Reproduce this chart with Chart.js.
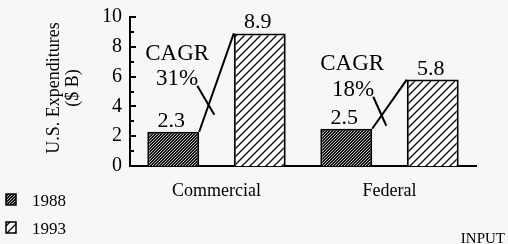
<!DOCTYPE html>
<html>
<head>
<meta charset="utf-8">
<script src="https://cdn.jsdelivr.net/npm/chart.js@4"></script>
<style>
  html, body { margin: 0; padding: 0; background: #f7f7f5; }
  #wrap { width: 508px; height: 244px; }
</style>
</head>
<body>
<div id="wrap"><canvas id="chart" width="508" height="244"></canvas></div>
<script>
// Data
const categories = ['Commercial', 'Federal'];
const years = ['1988', '1993'];
const values1988 = [2.3, 2.5];
const values1993 = [8.9, 5.8];
const cagrLabels = ['31%', '18%'];
const yTicks = [0, 2, 4, 6, 8, 10];

const SERIF = "'Liberation Serif', 'Times New Roman', serif";
const BG = '#f7f7f5';

// Hatch patterns ("/" direction, 45 degrees)
function makeHatch(size, spacing, bg, fg, lw) {
    const c = document.createElement('canvas');
    c.width = size;
    c.height = size;
    const g = c.getContext('2d');
    g.fillStyle = bg;
    g.fillRect(0, 0, size, size);
    g.strokeStyle = fg;
    g.lineWidth = lw;
    g.beginPath();
    for (let k = 0; k <= 2 * size; k += spacing) {
        g.moveTo(k + 2, -2);
        g.lineTo(k - size - 2, size + 2);
    }
    g.stroke();
    return g.createPattern(c, 'repeat');
}
const ctx = document.getElementById('chart').getContext('2d');
const darkHatch = makeHatch(6, 3, '#141414', '#cfcfcf', 0.9);
const lightHatch = makeHatch(8, 8, '#fbfbfa', '#111', 1.4);

// Annotation placement, relative to top-right corner of the 1988 bar
const cagrPos = [
    { cagr: [-22, -72], pct: [-22, -47], ptr: [17, 29] },
    { cagr: [-20, -59], pct: [-19, -33], ptr: [13, 29] }
];

const extrasPlugin = {
    id: 'extras',
    beforeDraw(chart) {
        const c = chart.ctx;
        c.save();
        c.fillStyle = BG;
        c.fillRect(0, 0, chart.width, chart.height);
        c.restore();
    },
    afterDraw(chart) {
        const c = chart.ctx;
        const y = chart.scales.y;
        const area = chart.chartArea;
        c.save();
        // inward y ticks
        c.strokeStyle = '#000';
        c.lineWidth = 2;
        for (let v = 0; v <= 10; v++) {
            const py = Math.round(y.getPixelForValue(v));
            const len = v % 2 === 0 ? 6 : 4;
            c.beginPath();
            c.moveTo(area.left, py);
            c.lineTo(area.left + len, py);
            c.stroke();
        }

        // y title
        c.fillStyle = '#000';
        c.font = '18px ' + SERIF;
        c.textAlign = 'center';
        c.textBaseline = 'middle';
        c.save();
        c.translate(54, 88);
        c.rotate(-Math.PI / 2);
        c.fillText('U.S. Expenditures', 0, 0);
        c.restore();
        c.save();
        c.translate(73, 88);
        c.rotate(-Math.PI / 2);
        c.fillText('($ B)', 0, 0);
        c.restore();

        // value labels
        c.font = '22px ' + SERIF;
        c.textBaseline = 'alphabetic';
        chart.data.datasets.forEach((ds, di) => {
            chart.getDatasetMeta(di).data.forEach((el, i) => {
                c.fillText(String(ds.data[i]), el.x - 2, el.y - 5);
            });
        });

        // CAGR lines and labels
        const m0 = chart.getDatasetMeta(0).data;
        const m1 = chart.getDatasetMeta(1).data;
        categories.forEach((cat, i) => {
            const a = m0[i], b = m1[i];
            const ax = a.x + a.width / 2, ay = a.y;
            const bx = b.x - b.width / 2, by = b.y;
            c.lineWidth = 2;
            c.beginPath();
            c.moveTo(ax, ay);
            c.lineTo(bx, by);
            c.stroke();

            const p = cagrPos[i];
            c.font = '23px ' + SERIF;
            c.textAlign = 'center';
            c.fillText('CAGR', ax + p.cagr[0], ay + p.cagr[1]);
            const px = ax + p.pct[0], py = ay + p.pct[1];
            c.fillText(cagrLabels[i], px, py);
            const w = c.measureText(cagrLabels[i]).width;
            const sx = px + w / 2 - 1, sy = py + 1;
            c.beginPath();
            c.moveTo(sx, sy);
            c.lineTo(sx + p.ptr[0], sy + p.ptr[1]);
            c.stroke();
        });

        // legend
        const fills = [darkHatch, lightHatch];
        c.font = '17px ' + SERIF;
        c.textAlign = 'left';
        years.forEach((yr, i) => {
            const top = 194 + i * 28;
            c.fillStyle = fills[i];
            c.fillRect(6, top, 10, 11);
            c.strokeStyle = '#000';
            c.lineWidth = 1.5;
            c.strokeRect(6, top, 10, 11);
            c.fillStyle = '#000';
            c.fillText(yr, 32, top + 12);
        });

        // source mark
        c.font = '15px ' + SERIF;
        c.textAlign = 'right';
        c.fillText('INPUT', 505, 243);
        c.restore();
    }
};

new Chart(ctx, {
    type: 'bar',
    data: {
        labels: categories,
        datasets: [{
            label: years[0],
            data: values1988,
            backgroundColor: darkHatch,
            borderColor: '#000',
            borderWidth: 2,
            borderSkipped: 'bottom'
        }, {
            label: years[1],
            data: values1993,
            backgroundColor: lightHatch,
            borderColor: '#000',
            borderWidth: 2,
            borderSkipped: 'bottom'
        }]
    },
    options: {
        responsive: false,
        animation: false,
        events: [],
        categoryPercentage: 1.0,
        barPercentage: 0.6,
        layout: { padding: { left: 0, top: 17, right: 32, bottom: 0 } },
        plugins: {
            legend: { display: false },
            tooltip: { enabled: false }
        },
        scales: {
            x: {
                grid: { display: false },
                border: { display: true, color: '#000', width: 2 },
                ticks: { color: '#000', font: { family: SERIF, size: 18 }, padding: 6 },
                afterFit(scale) { scale.height = 78; }
            },
            y: {
                min: 0,
                max: 10,
                afterBuildTicks(scale) { scale.ticks = yTicks.map(v => ({ value: v })); },
                grid: { display: false },
                border: { display: true, color: '#000', width: 2 },
                ticks: { color: '#000', font: { family: SERIF, size: 20 }, padding: 0 },
                afterFit(scale) { scale.width = 130; }
            }
        }
    },
    plugins: [extrasPlugin]
});
</script>
</body>
</html>
